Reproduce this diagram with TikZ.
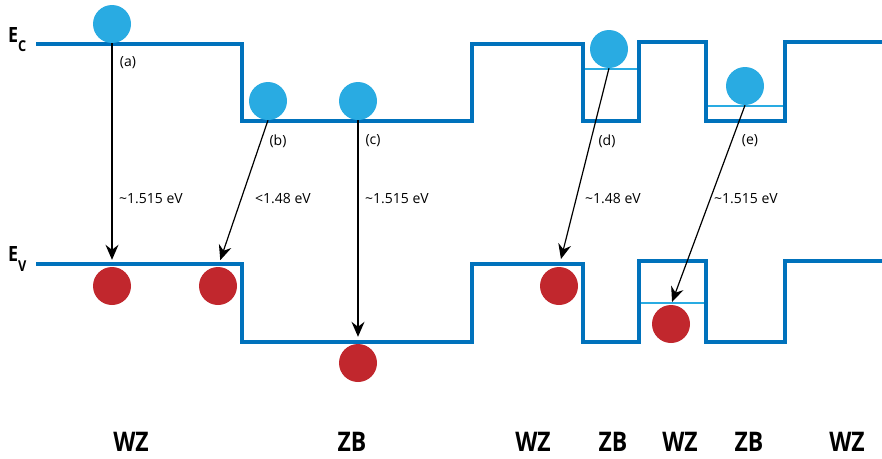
\documentclass[tikz,border=0pt]{standalone}
\usepackage{fontspec}
\setmainfont{Open Sans}
\newfontfamily\condfont[FakeStretch=0.85]{Open Sans}
\usetikzlibrary{arrows.meta,positioning}
\definecolor{bandblue}{RGB}{0,114,188}
\definecolor{elecblue}{RGB}{41,171,226}
\definecolor{holered}{RGB}{193,39,45}

\begin{document}
\begin{tikzpicture}[x=1pt, y=-1pt,
  band/.style={draw=bandblue, line width=4pt, line join=miter},
  level/.style={draw=elecblue, line width=2.5pt},
  elec/.style={circle, fill=elecblue, minimum size=38pt, inner sep=0pt},
  hole/.style={circle, fill=holered, minimum size=38pt, inner sep=0pt},
  arr/.style={draw, line width=1.2pt, -{Stealth[length=15pt,width=13pt,inset=5pt]}},
  tag/.style={font=\fontsize{14}{16}\selectfont},
  phase/.style={font=\condfont\bfseries\fontsize{27}{29}\selectfont},
  edge/.style={anchor=base west, inner sep=0pt,
               font=\condfont\bfseries\fontsize{21}{22}\selectfont}
]
\useasboundingbox (0,0) rectangle (882,458);

% conduction and valence band edges
\draw[band] (36,44) -- (242,44) -- (242,121) -- (472,121) -- (472,44)
  -- (583,44) -- (583,121) -- (639,121) -- (639,42) -- (706,42)
  -- (706,121) -- (785,121) -- (785,42) -- (882,42);
\draw[band] (36,264) -- (242,264) -- (242,342) -- (472,342) -- (472,264)
  -- (583,264) -- (583,342) -- (639,342) -- (639,261) -- (706,261)
  -- (706,342) -- (785,342) -- (785,261) -- (882,261);

% confined levels
\draw[level] (585,69) -- (637,69);
\draw[level] (708,106) -- (783,106);
\draw[level] (641,303) -- (704,303);

\node[edge] (ecl) at (8,42) {E\raisebox{-9pt}{\fontsize{15}{15}\selectfont C}};
\node[edge] (evl) at (8,261) {E\raisebox{-10pt}{\fontsize{15}{15}\selectfont V}};

% electrons
\node[elec] (ea) at (112,24) {};
\node[elec] (eb) at (268,101) {};
\node[elec] (ec) at (358,101) {};
\node[elec] (ed) at (609,49) {};
\node[elec] (ee) at (745,86) {};

% holes
\node[hole] (ha) at (112,286) {};
\node[hole] (hb) at (218,286) {};
\node[hole] (hc) at (358,363) {};
\node[hole] (hd) at (559,286) {};
\node[hole] (he) at (671,324) {};

% transitions
\draw[arr, shorten >=7pt] (ea.south) -- (ha.north);
\draw[arr, shorten >=7pt] (eb.south) -- (hb.north);
\draw[arr, shorten >=7pt] (ec.south) -- (hc.north);
\draw[arr, shorten >=8pt] (ed.south) -- (hd.north);
\draw[arr, shorten >=3pt] (ee.south) -- (he.north);

\node[tag] (la) at (128,63) {(a)};
\node[tag] (lb) at (278,141) {(b)};
\node[tag] (lc) at (373,141) {(c)};
\node[tag] (ld) at (607,141) {(d)};
\node[tag] (le) at (750,141) {(e)};

\node[tag] (ga) at (151,199) {\textasciitilde1.515 eV};
\node[tag] (gb) at (283,199) {<1.48 eV};
\node[tag] (gc) at (397,199) {\textasciitilde1.515 eV};
\node[tag] (gd) at (613,199) {\textasciitilde1.48 eV};
\node[tag] (ge) at (746,199) {\textasciitilde1.515 eV};

% crystal phases
\node[phase] (p1) at (131,442) {WZ};
\node[phase] (p2) at (352,442) {ZB};
\node[phase] (p3) at (533,442) {WZ};
\node[phase] (p4) at (613,442) {ZB};
\node[phase] (p5) at (680,442) {WZ};
\node[phase] (p6) at (749,442) {ZB};
\node[phase] (p7) at (847,442) {WZ};
\end{tikzpicture}
\end{document}
